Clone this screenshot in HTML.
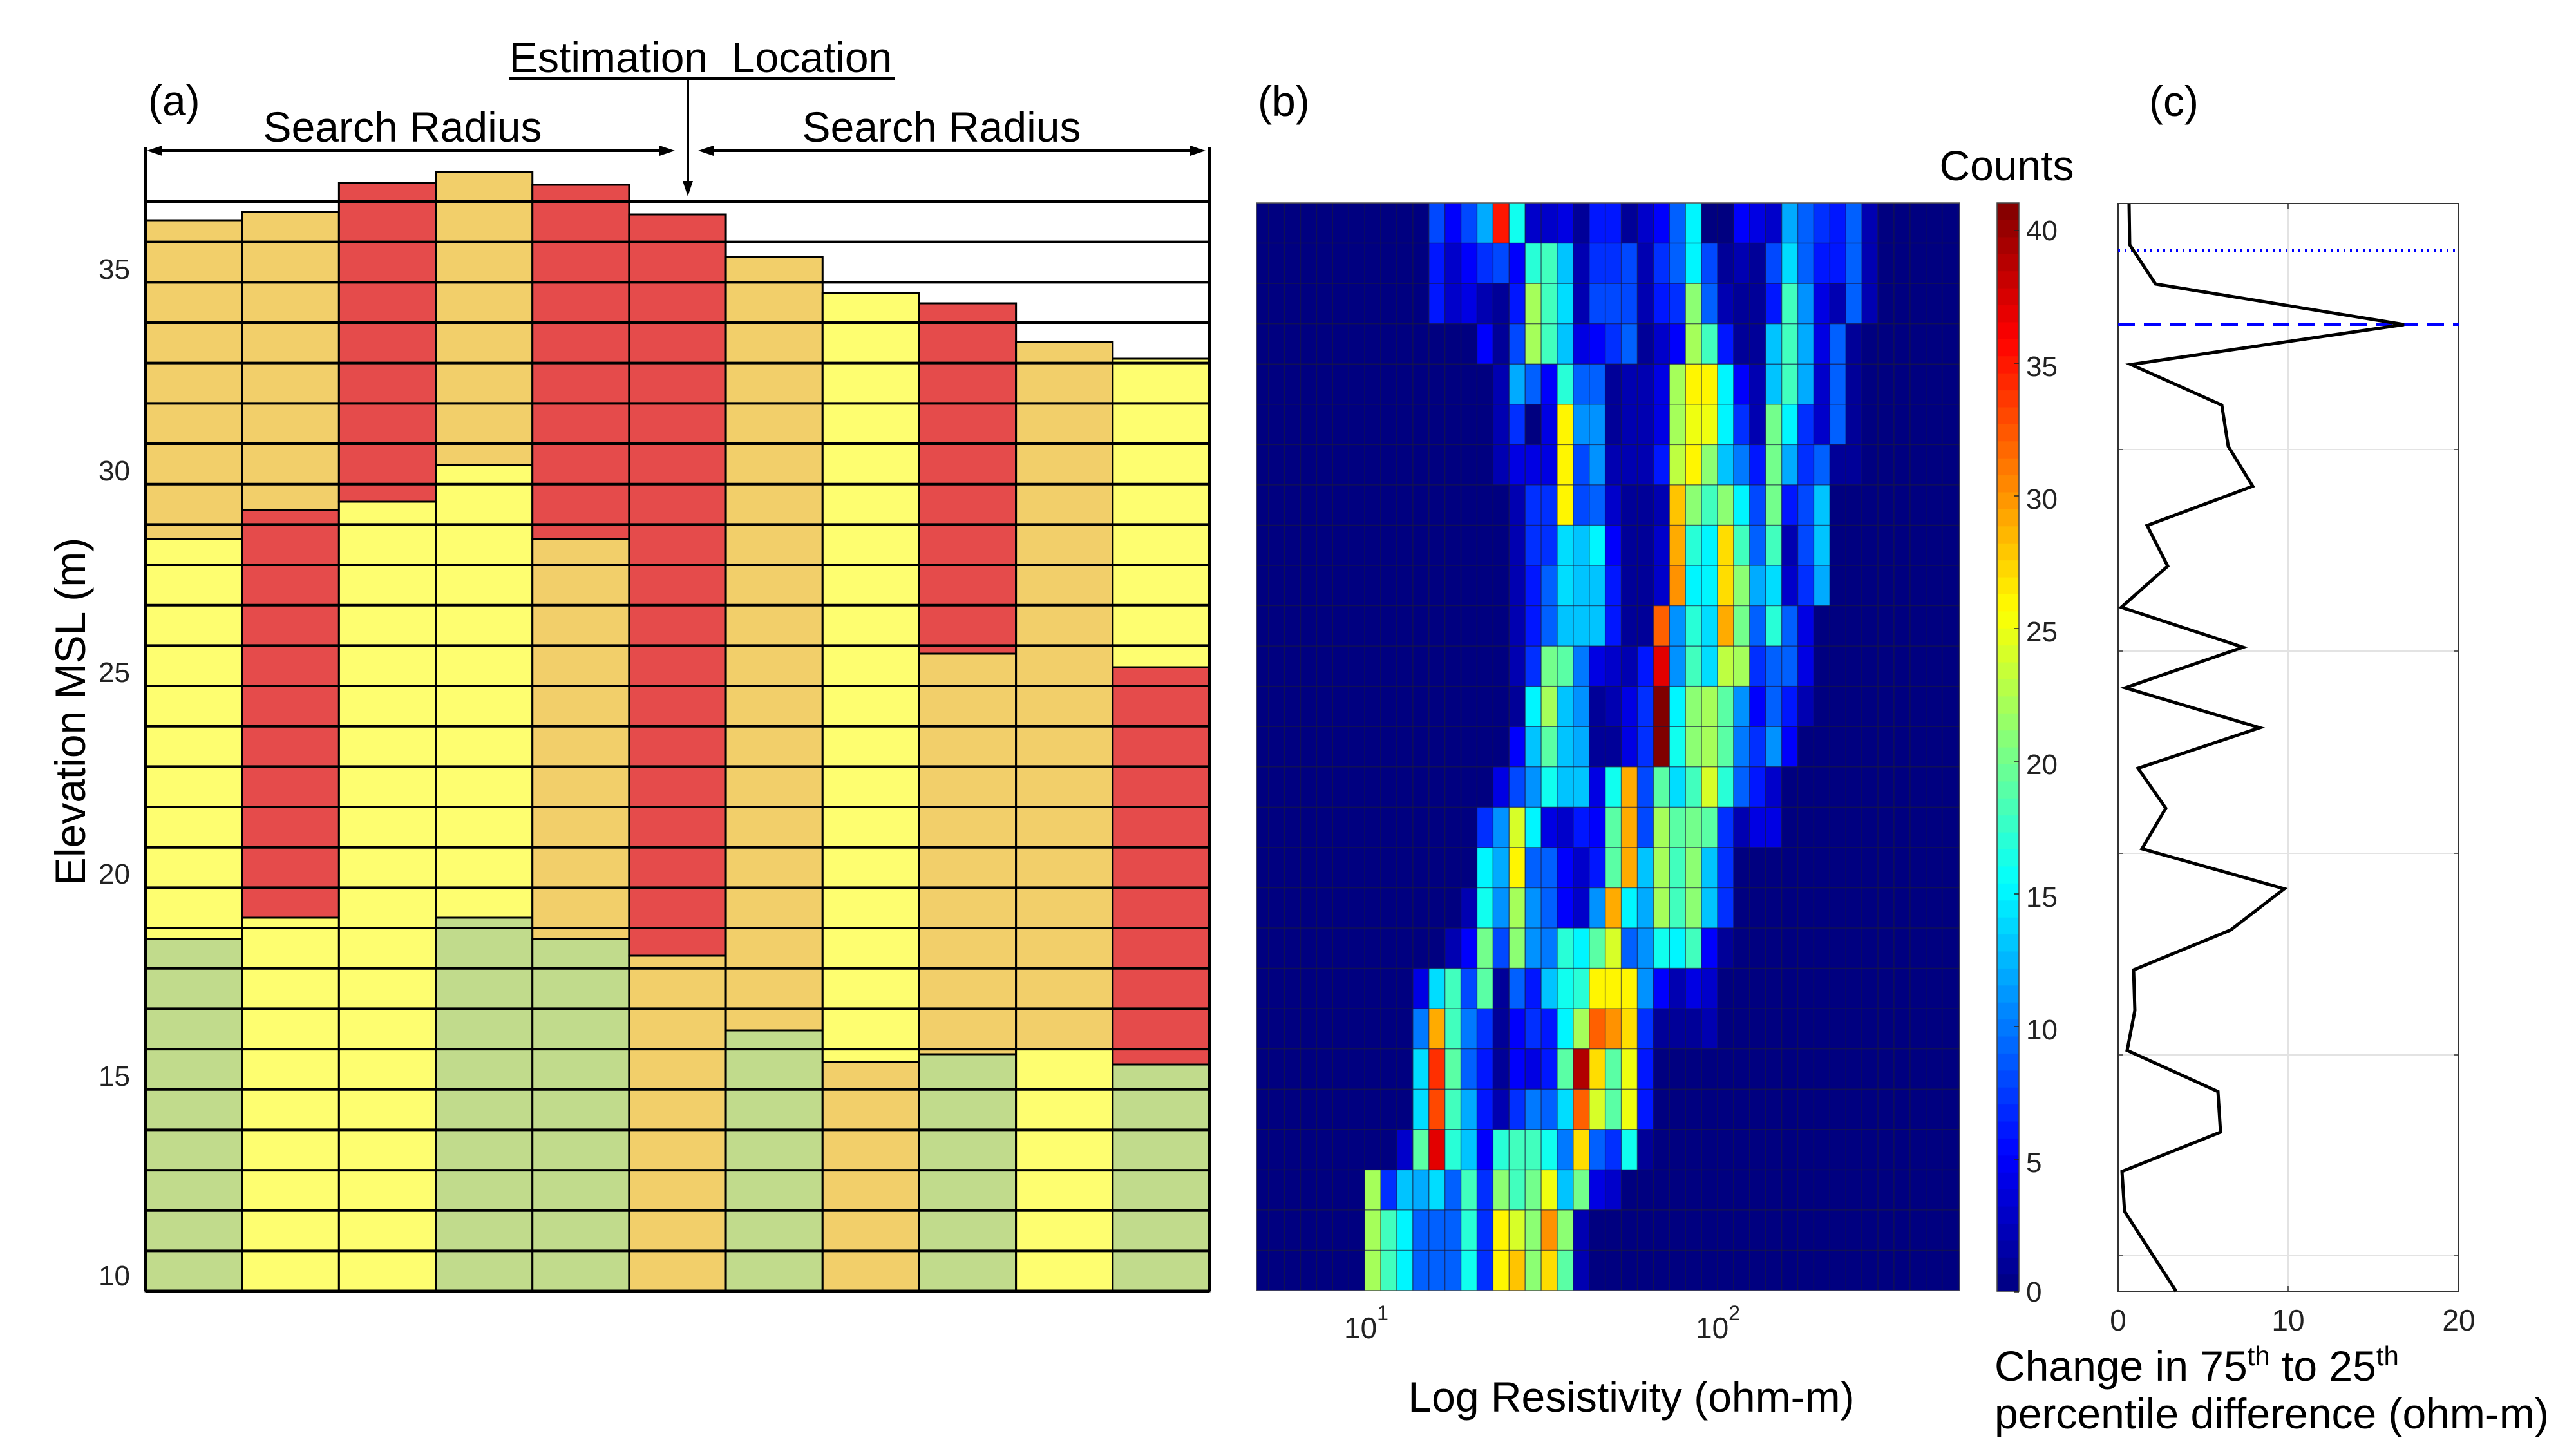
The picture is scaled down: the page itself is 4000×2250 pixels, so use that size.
<!DOCTYPE html>
<html><head><meta charset="utf-8">
<style>
html,body{margin:0;padding:0;background:#fff;}
svg{display:block;font-family:"Liberation Sans",Arial,sans-serif;}
</style></head>
<body>
<svg id="s" xmlns="http://www.w3.org/2000/svg" width="4000" height="2250" viewBox="0 0 4000 2250">
<rect width="4000" height="2250" fill="#fff"/>
<g id="pa"></g>
<g id="pb"></g>
<g id="pc"></g>
<!-- panel a text -->
<text x="230" y="179" font-size="66">(a)</text>
<text x="791" y="112" font-size="66">Estimation&#160; Location</text>
<line x1="791" y1="122" x2="1389" y2="122" stroke="#000" stroke-width="4"/>
<text x="625" y="220" font-size="66" text-anchor="middle">Search Radius</text>
<text x="1462" y="220" font-size="66" text-anchor="middle">Search Radius</text>
<text transform="translate(132,1105) rotate(-90)" font-size="66" text-anchor="middle">Elevation MSL (m)</text>
<g font-size="44" text-anchor="end" fill="#222">
<text x="202" y="433">35</text><text x="202" y="746">30</text><text x="202" y="1059">25</text>
<text x="202" y="1372">20</text><text x="202" y="1686">15</text><text x="202" y="1996">10</text>
</g>
<!-- panel b text -->
<text x="1953" y="180" font-size="66">(b)</text>
<text x="3337" y="180" font-size="66">(c)</text>
<text x="3116" y="280" font-size="66" text-anchor="middle">Counts</text>
<g font-size="46" fill="#222">
<text x="2087" y="2078">10<tspan font-size="32" dy="-28">1</tspan></text>
<text x="2633" y="2078">10<tspan font-size="32" dy="-28">2</tspan></text>
</g>
<text x="2533" y="2192" font-size="66" text-anchor="middle">Log Resistivity (ohm-m)</text>
<g font-size="44" fill="#222">
<text x="3146" y="2021">0</text><text x="3146" y="1820">5</text><text x="3146" y="1614">10</text>
<text x="3146" y="1408">15</text><text x="3146" y="1202">20</text><text x="3146" y="996">25</text>
<text x="3146" y="790">30</text><text x="3146" y="584">35</text><text x="3146" y="373">40</text>
</g>
<g font-size="46" fill="#222" text-anchor="middle">
<text x="3289" y="2066">0</text><text x="3553" y="2066">10</text><text x="3818" y="2066">20</text>
</g>
<text x="3097" y="2144" font-size="66">Change in 75<tspan font-size="42" dy="-24">th</tspan><tspan dy="24"> to 25</tspan><tspan font-size="42" dy="-24">th</tspan></text>
<text x="3097" y="2218" font-size="66">percentile difference (ohm-m)</text>
</svg>
<script>
var NS="http://www.w3.org/2000/svg";
function el(p,t,a){var e=document.createElementNS(NS,t);for(var k in a)e.setAttribute(k,a[k]);p.appendChild(e);return e;}
// ---------- panel a ----------
var pa=document.getElementById('pa');
var O='#F2CF6A',Y='#FEFE70',R='#E54B4B',G='#C1DB8C';
var L=226,RT=1878,B=2005,cw=(RT-L)/11;
var cols=[[342,[[O,837],[Y,1458],[G,B]]],[329,[[O,792],[R,1425],[Y,B]]],[284,[[R,779],[Y,B]]],
[267,[[O,722],[Y,1425],[G,B]]],[287,[[R,837],[O,1458],[G,B]]],[333,[[R,1484],[O,B]]],
[399,[[O,1600],[G,B]]],[455,[[Y,1649],[O,B]]],[471,[[R,1015],[O,1637],[G,B]]],
[531,[[O,1629],[Y,B]]],[557,[[Y,1036],[R,1653],[G,B]]]];
cols.forEach(function(c,i){var x=L+i*cw,top=c[0];c[1].forEach(function(s){el(pa,'rect',{x:x,y:top,width:cw,height:s[1]-top,fill:s[0],stroke:'#000','stroke-width':3});top=s[1];});});
for(var k=0;k<=27;k++){var y=313+k*62.67;el(pa,'line',{x1:L,x2:RT,y1:y,y2:y,stroke:'#000','stroke-width':4});}
el(pa,'line',{x1:L,x2:L,y1:228,y2:B,stroke:'#000','stroke-width':4});
el(pa,'line',{x1:RT,x2:RT,y1:228,y2:B,stroke:'#000','stroke-width':4});
el(pa,'line',{x1:L,x2:RT,y1:B,y2:B,stroke:'#000','stroke-width':5});
function harrow(x1,x2,y){el(pa,'line',{x1:x1+14,x2:x2-14,y1:y,y2:y,stroke:'#000','stroke-width':4});
el(pa,'polygon',{points:(x1)+','+y+' '+(x1+24)+','+(y-8)+' '+(x1+24)+','+(y+8),fill:'#000'});
el(pa,'polygon',{points:(x2)+','+y+' '+(x2-24)+','+(y-8)+' '+(x2-24)+','+(y+8),fill:'#000'});}
harrow(228,1048,234);harrow(1084,1872,234);
el(pa,'line',{x1:1068,x2:1068,y1:122,y2:290,stroke:'#000','stroke-width':4});
el(pa,'polygon',{points:'1068,305 1060,281 1076,281',fill:'#000'});
// ---------- panel b ----------
var pb=document.getElementById('pb');
function jet(v){var t=Math.max(0,Math.min(1,v/41));function c(x){return Math.round(255*Math.max(0,Math.min(1,x)));}
return 'rgb('+c(1.5-Math.abs(4*t-3))+','+c(1.5-Math.abs(4*t-2))+','+c(1.5-Math.abs(4*t-1))+')';}
var rows=[
[11,[8,5,8,12,35,16,3,3,4,1,6,6,1,3,5,9,15,0,0,5,4,3,12,9,7,6,9,2]],
[11,[6,3,5,7,8,5,17,18,13,2,7,7,8,2,7,9,15,8,1,2,1,8,14,9,6,6,9,2]],
[11,[6,3,4,2,1,6,22,18,14,2,8,8,8,2,6,7,21,9,2,1,1,6,18,11,4,2,9,2]],
[14,[5,1,8,22,18,13,4,5,7,9,1,3,5,22,18,6,1,1,13,18,12,4,9,1]],
[15,[2,12,9,5,17,9,9,1,2,2,4,22,26,26,15,5,2,13,18,12,3,9,1]],
[15,[2,7,0,4,26,11,11,1,2,2,4,22,25,25,15,7,2,20,15,7,3,9,1]],
[15,[2,4,4,4,26,8,11,2,2,2,6,23,26,21,13,10,6,20,12,7,9,1,1]],
[16,[2,7,7,26,8,9,3,1,1,2,28,21,18,21,15,8,20,6,8,13]],
[16,[2,7,7,14,13,15,5,1,1,3,29,17,15,27,18,9,18,2,8,13]],
[16,[2,6,9,14,13,13,6,1,1,3,30,15,15,27,21,12,14,3,7,12]],
[16,[2,6,9,13,13,13,6,1,1,32,11,17,14,29,20,9,17,9,4]],
[16,[2,7,20,19,10,4,3,2,6,37,11,18,14,23,22,7,9,9,4]],
[16,[1,15,22,13,11,1,2,4,7,41,15,21,22,19,11,5,9,6,2]],
[16,[5,13,19,13,12,1,1,4,7,41,16,21,22,19,10,7,11,5]],
[15,[4,8,11,16,13,13,4,16,29,8,19,14,18,24,17,9,6,3]],
[14,[7,11,24,15,4,3,6,5,19,29,8,22,19,20,19,7,2,4,4]],
[14,[15,12,26,9,9,5,3,6,19,29,13,22,18,21,13,7]],
[13,[2,16,11,22,11,9,5,3,11,29,15,12,22,18,21,13,7]],
[12,[2,5,20,8,21,11,10,17,15,19,24,9,11,16,15,18,5,1]],
[10,[4,14,18,8,19,1,9,6,13,16,17,26,26,26,11,5,2,4,3]],
[10,[10,29,18,10,7,1,5,7,6,15,22,32,30,27,7,1,1,1,2]],
[10,[14,34,19,9,6,1,5,4,6,19,39,27,19,25,6]],
[10,[14,33,18,12,6,2,7,10,9,14,32,24,19,25,6]],
[9,[3,19,37,17,13,5,17,18,18,16,10,27,9,7,16,1]],
[7,[22,7,13,12,14,9,18,7,21,18,20,25,13,20,4,3]],
[7,[22,18,15,9,9,9,17,7,26,24,21,30,21,2]],
[7,[22,18,15,9,9,9,16,7,26,28,21,27,19,2]]];
var HX0=1951,HX1=3043,HT=315,HB=2004,rh=(HB-HT)/27,cx1=1969.7,ccw=(HX1-cx1)/43.1;
el(pb,'rect',{x:HX0,y:HT,width:HX1-HX0,height:HB-HT,fill:jet(0)});
rows.forEach(function(r,ri){var y=HT+ri*rh;r[1].forEach(function(v,j){var c=r[0]+j;var x=cx1+(c-1)*ccw;
if(v>0)el(pb,'rect',{x:x,y:y,width:ccw,height:rh,fill:jet(v)});});});
for(var c=0;c<=43;c++){var x=cx1+c*ccw;if(x<HX1)el(pb,'line',{x1:x,x2:x,y1:HT,y2:HB,stroke:'#1a1a3a','stroke-width':1.5,'stroke-opacity':0.6});}
for(var r=1;r<27;r++){var y=HT+r*rh;el(pb,'line',{x1:HX0,x2:HX1,y1:y,y2:y,stroke:'#1a1a3a','stroke-width':1.5,'stroke-opacity':0.6});}
el(pb,'rect',{x:HX0,y:HT,width:HX1-HX0,height:HB-HT,fill:'none',stroke:'#555','stroke-width':1.5});
// colorbar
var CB0=3101,CB1=3135,CT=315,CBB=2005,n=64;
for(var i=0;i<n;i++){var v=(i+0.5)/n*41;var y=CBB-(i+1)/n*(CBB-CT);el(pb,'rect',{x:CB0,y:y,width:CB1-CB0,height:(CBB-CT)/n+0.6,fill:jet(v)});}
el(pb,'rect',{x:CB0,y:CT,width:CB1-CB0,height:CBB-CT,fill:'none',stroke:'#444','stroke-width':1.5});
for(var v=0;v<=40;v+=5){var y=2006-v*41.2;el(pb,'line',{x1:CB1-8,x2:CB1,y1:y,y2:y,stroke:'#222','stroke-width':1.5});}
// ---------- panel c ----------
var pc=document.getElementById('pc');
var PL=3289,PR=3818,PT=316,PB=2005;
[698,1011,1325,1638,1950].forEach(function(y){el(pc,'line',{x1:PL,x2:PR,y1:y,y2:y,stroke:'#e3e3e3','stroke-width':2});
el(pc,'line',{x1:PL,x2:PL+8,y1:y,y2:y,stroke:'#333','stroke-width':1.5});el(pc,'line',{x1:PR-8,x2:PR,y1:y,y2:y,stroke:'#333','stroke-width':1.5});});
el(pc,'line',{x1:3553,x2:3553,y1:PT,y2:PB,stroke:'#e3e3e3','stroke-width':2});
el(pc,'line',{x1:3553,x2:3553,y1:PT,y2:PT+8,stroke:'#333','stroke-width':1.5});
el(pc,'line',{x1:3553,x2:3553,y1:PB-8,y2:PB,stroke:'#333','stroke-width':1.5});
el(pc,'rect',{x:PL,y:PT,width:PR-PL,height:PB-PT,fill:'none',stroke:'#333','stroke-width':2});
el(pc,'line',{x1:PL,x2:PR,y1:389,y2:389,stroke:'#0000ff','stroke-width':4,'stroke-dasharray':'3 7'});
el(pc,'line',{x1:PL,x2:PR,y1:504,y2:504,stroke:'#0000ff','stroke-width':4,'stroke-dasharray':'26 14'});
var pts=[[3306,316],[3307,380],[3347,441],[3733,504],[3309,566],[3450,629],[3460,693],[3498,755],[3334,816],[3366,879],[3294,943],[3483,1005],[3300,1068],[3509,1130],[3320,1193],[3363,1255],[3326,1318],[3547,1380],[3464,1444],[3313,1506],[3315,1569],[3303,1631],[3444,1695],[3448,1758],[3295,1819],[3299,1881],[3379,2005]];
el(pc,'polyline',{points:pts.map(function(p){return p.join(',');}).join(' '),fill:'none',stroke:'#000','stroke-width':5,'stroke-linejoin':'miter'});
</script>
</body></html>
